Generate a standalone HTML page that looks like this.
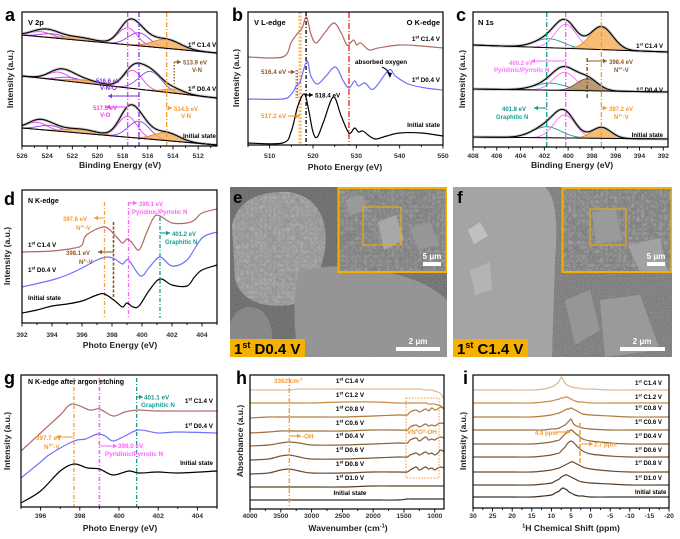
<!DOCTYPE html>
<html><head><meta charset="utf-8">
<style>
html,body{margin:0;padding:0;background:#fff;}
svg{display:block;font-family:"Liberation Sans",Arial,sans-serif;}
text{font-weight:bold;}
</style></head>
<body>
<svg id="fig" width="680" height="539" viewBox="0 0 680 539" xmlns="http://www.w3.org/2000/svg">
<defs>
<filter id="noise" x="0" y="0" width="100%" height="100%">
<feTurbulence type="fractalNoise" baseFrequency="0.9" numOctaves="2" seed="3"/>
<feColorMatrix type="saturate" values="0"/>
<feColorMatrix type="matrix" values="1.6 0 0 0 -0.3  1.6 0 0 0 -0.3  1.6 0 0 0 -0.3  0 0 0 0 1"/>
</filter>
<filter id="noise2" x="0" y="0" width="100%" height="100%">
<feTurbulence type="turbulence" baseFrequency="0.22" numOctaves="3" seed="7"/>
<feColorMatrix type="saturate" values="0"/>
<feColorMatrix type="matrix" values="1.6 0 0 0 0  1.6 0 0 0 0  1.6 0 0 0 0  0 0 0 0 1"/>
</filter>
<clipPath id="clipE"><rect x="230" y="187" width="217" height="170"/></clipPath>
<clipPath id="clipF"><rect x="453" y="187" width="219" height="170"/></clipPath>
<clipPath id="blobE"><path d="M232,225 Q240,190 290,192 Q330,200 325,250 Q315,300 290,305 Q245,310 235,280 Z"/></clipPath>
</defs>

<!-- SEM panel e -->
<g clip-path="url(#clipE)">
<rect x="230" y="187" width="217" height="170" fill="#626262"/>
<rect x="230" y="187" width="217" height="170" filter="url(#noise)" opacity="0.18"/>
<path d="M232,225 Q240,190 290,192 Q330,200 325,250 Q315,300 290,305 Q245,310 235,280 Z" fill="#999"/>
<rect x="230" y="187" width="100" height="125" filter="url(#noise2)" opacity="0.18" clip-path="url(#blobE)"/>
<path d="M298,272 Q330,262 370,270 Q420,275 447,300 L447,357 L300,357 Q290,320 298,272 Z" fill="#929292"/>
<path d="M298,272 Q330,262 370,270 Q420,275 447,300 L447,357 L300,357 Q290,320 298,272 Z" filter="url(#noise)" opacity="0.08"/>
<ellipse cx="250" cy="335" rx="22" ry="28" fill="#888"/>
<rect x="338" y="187" width="109" height="85" fill="#808080"/>
<rect x="338" y="187" width="109" height="85" filter="url(#noise2)" opacity="0.2"/>
<path d="M378,222 L396,215 L404,240 L384,250 Z" fill="#a8a8a8"/>
<path d="M345,200 L362,195 L368,210 L350,215 Z" fill="#9a9a9a"/>
<path d="M410,228 L430,222 L440,245 L418,250 Z" fill="#969696"/>
<rect x="338.5" y="188" width="108" height="84" fill="none" stroke="#f5b000" stroke-width="2"/>
<rect x="363" y="207" width="38" height="38" fill="none" stroke="#f5b000" stroke-width="1"/>
<rect x="423" y="262" width="18" height="4" fill="#fff"/>
<text x="432" y="259" font-size="8" fill="#fff" text-anchor="middle">5 μm</text>
<rect x="396" y="347" width="44" height="4" fill="#fff"/>
<text x="418" y="344" font-size="8" fill="#fff" text-anchor="middle">2 μm</text>
<rect x="230" y="339" width="75" height="18" fill="#f5b000"/>
<text x="234" y="354" font-size="15" fill="#000">1<tspan font-size="9" dy="-6">st</tspan><tspan dy="6"> D0.4 V</tspan></text>
<text x="233" y="203" font-size="17" fill="#000">e</text>
</g>

<!-- SEM panel f -->
<g clip-path="url(#clipF)">
<rect x="453" y="187" width="219" height="170" fill="#717171"/>
<rect x="453" y="187" width="219" height="170" filter="url(#noise)" opacity="0.25"/>
<path d="M453,187 L545,187 Q560,200 555,260 L552,357 L453,357 Z" fill="#a4a4a4"/>
<path d="M470,270 L490,262 L492,290 L475,295 Z" fill="#b4b4b4"/>
<path d="M468,230 L480,222 L488,236 L474,244 Z" fill="#c0c0c0"/>
<path d="M600,300 L640,295 L660,350 L605,357 Z" fill="#9a9a9a"/>
<path d="M565,300 L590,290 L600,330 L575,345 Z" fill="#969696"/>
<rect x="562" y="187" width="110" height="85" fill="#808080"/>
<rect x="562" y="187" width="110" height="85" filter="url(#noise2)" opacity="0.22"/>
<path d="M628,245 L660,238 L668,272 L640,272 Z" fill="#a2a2a2"/>
<path d="M592,212 L615,208 L622,240 L596,244 Z" fill="#9a9a9a"/>
<rect x="562.5" y="188" width="109" height="84" fill="none" stroke="#f5b000" stroke-width="2"/>
<rect x="590" y="209" width="36" height="36" fill="none" stroke="#f5b000" stroke-width="1"/>
<rect x="647" y="262" width="18" height="4" fill="#fff"/>
<text x="656" y="259" font-size="8" fill="#fff" text-anchor="middle">5 μm</text>
<rect x="620" y="347" width="45" height="4" fill="#fff"/>
<text x="642" y="344" font-size="8" fill="#fff" text-anchor="middle">2 μm</text>
<rect x="453" y="339" width="75" height="18" fill="#f5b000"/>
<text x="457" y="354" font-size="15" fill="#000">1<tspan font-size="9" dy="-6">st</tspan><tspan dy="6"> C1.4 V</tspan></text>
<text x="457" y="203" font-size="17" fill="#000">f</text>
</g>
</svg>

<script>
// ---------- DATA ----------
const aNames=['Initial state','1st D0.4 V','1st C1.4 V'];
const aBaseInit=[18,1], aBaseD04=[70,48], aBaseC14=[111,93];
const aCenInit=[517.6,516.7,514.5,524.8,523.8,521.3];
const aHtInit=[21,17,8,7,5,4];
const aSgInit=[0.75,0.85,1.0,0.8,0.9,1.2];
const aCenD04=[517.2,515.8,513.9,523.1,522.2,521.0];
const aHtD04=[18,19,4,8,4,3];
const aSgD04=[0.75,0.9,0.8,0.85,0.9,1.2];
const aCenC14=[517.6,516.7,514.5,524.5,523.6,521.5];
const aHtC14=[17,13,9,5,4,3];
const aSgC14=[0.75,0.85,1.1,0.9,0.9,1.2];
const aKinds=['VO','VNO','VN','VO','VNO','VN'];
const aTicks=[526,524,522,520,518,516,514,512];

const bXInit=[505,513,515,516.5,518,519,520,521,522.5,524.7,526.5,528.3,529.6,530.5,531.5,533,534.5,537,540,545,550];
const bYInit=[3,3,15,40,52,36,14,9,25,49,30,13,18,14,15,10,7,10,13,13,10];
const bXD04=[505,513,515,516.3,517,518.6,519.5,521,523,525.2,527,528.3,529.6,530.5,532,534,537.5,539,542,546,550];
const bYD04=[47,47,52,61,64,85,70,62,70,79,65,58,65,60,63,57,76,70,62,58,56];
const bXC14=[505,513,515,516.5,517.5,518.5,519.5,520.7,522.5,524.8,526.5,527.8,528.6,529.4,530.1,531,533,535,540,545,550];
const bYC14=[89,89,104,113,118,129,112,103,112,123,113,101,103,106,101,103,96,98,101,100,98];
const bTicks=[510,520,530,540,550];

const cBaseC14=[102,95], cCenC14=[401.6,400.2,397.2], cHtC14=[9,24,23], cSgC14=[1.2,0.9,0.95];
const cBaseD04=[58,55], cCenD04=[401.5,400.3,398.4], cHtD04=[7,18,12], cSgD04=[1.3,0.95,0.9];
const cBaseInit=[10,8], cCenInit=[401.8,400.3,397.2], cHtInit=[11,23,11], cSgInit=[1.2,0.9,0.8];
const cTicks=[408,406,404,402,400,398,396,394,392];

const dXC14=[392,394,395.5,396,396.3,397.5,398.3,398.7,399,399.3,399.8,400.3,400.8,401.2,402,403,403.5,404,405];
const dYC14=[71,72,75,78,88,96,86,80,84,81,73,90,106,107,100,100,103,110,114];
const dXD04=[392,394,395,396,397,397.7,398.2,398.7,399.1,399.9,400.5,401.2,402,403,404,405];
const dYD04=[36,43,48,55,63,66,64,59,63,47,56,66,57,63,85,91];
const dXInit=[392,393,394,395,396,397,397.5,398.2,398.7,399,399.4,399.8,400.5,401.2,402,403,403.5,404,405];
const dYInit=[10,13,17,19,22,28,29,22,16,20,16,17,33,44,38,37,46,53,58];
const dTicks=[392,394,396,398,400,402,404];

const gXC14=[395,396,397,397.6,398.5,399,399.7,400.3,401,402,405];
const gYC14=[53,71,89,100,94,95,88,92,94,93,93];
const gXD04=[395,396,396.5,397.7,398.3,398.9,399.3,399.7,400.3,401,402,403,405];
const gYD04=[26,42,50,63,65,70,68,63,68,74,71,72,71];
const gXInit=[395,396,397,397.7,398.4,399,399.7,400.5,401,402,403,405];
const gYInit=[1,13,33,40,36,35,29,33,31,32,31,33];
const gTicks=[396,398,400,402,404];

const hNames=['1st C1.4 V','1st C1.2 V','1st C0.8 V','1st C0.6 V','1st D0.4 V','1st D0.6 V','1st D0.8 V','1st D1.0 V','Initial state'];
const hX=[4000,3700,3500,3362,3200,3000,2500,2000,1600,1450,1400,1300,1250,1150,1100,1050,1000,950,900,850];
const hC14=[113,113,113,113,114,114,114,114,114,114,114,114,114,113,113,113,112,111,109,104];
const hC12=[100,100,100,100,100,100,101,101,100,100,100,100,100,100,99,99,99,98,97,94];
const hC08=[85,86,86,86,86,86,86,87,88,88,91,93,91,94,92,95,93,94,96,94];
const hC06=[70,71,72,72,72,72,72,73,73,73,76,78,76,79,77,78,77,79,80,79];
const hD04=[57,58,60,61,60,58,58,59,60,60,63,65,62,66,63,64,63,65,66,65];
const hD06=[43,44,47,48,46,44,44,45,46,46,48,50,48,51,49,50,48,50,53,51];
const hD08=[29,30,33,34,32,30,30,31,31,31,33,36,33,36,34,35,33,35,36,35];
const hD10=[16,16,16,16,16,16,16,17,17,17,17,17,17,17,17,17,17,17,17,17];
const hInit=[3,3,3,3,3,3,3,3,3,4,4,4,4,4,4,4,4,4,4,4];
const hTicks=[4000,3500,3000,2500,2000,1500,1000];

const iX=[30,20,15,12,10,9,8,7.5,7,6.5,6,5.5,5,4.5,4,3,2,0,-5,-10,-20];
const iC14=[113,113,113,114,116,118,122,126,123,120,118,117,116,116,115,115,114,114,113,113,113];
const iC12=[100,100,100,101,102,103,104,105,105,106,106,105,104,103,102,101,101,100,100,100,100];
const iC08=[86,86,86,87,88,89,90,91,92,93,94,94,95,94,93,91,89,88,87,86,86];
const iC06=[73,73,73,73,74,74,75,76,77,78,80,82,84,80,78,76,75,74,73,73,73];
const iD04=[59,59,59,60,61,62,63,65,67,69,71,72,73,72,70,67,64,62,60,59,59];
const iD06=[46,46,46,47,48,49,50,52,54,56,59,61,62,61,59,55,52,49,47,46,46];
const iD08=[31,31,31,32,33,34,35,36,37,38,39,40,41,41,40,38,36,34,32,31,31];
const iD10=[18,18,18,19,20,22,24,26,27,28,28,27,26,25,24,22,21,20,19,18,18];
const iInit=[6,6,6,7,8,10,12,14,15,14,13,11,10,9,8,7,7,6,6,6,6];
const iTicks=[30,25,20,15,10,5,0,-5,-10,-15,-20];

// ---------- HELPERS ----------
const NS="http://www.w3.org/2000/svg";
const fig=document.getElementById('fig');
function el(tag,parent){const e=document.createElementNS(NS,tag);(parent||fig).appendChild(e);return e;}
function set(e,o){for(const k in o)e.setAttribute(k,o[k]);return e;}
function group(name){const g=el('g');return g;}
function axis(f,dom,zero){
  const X=v=>f.x0+(v-dom[0])/(dom[1]-dom[0])*(f.x1-f.x0);
  const Y=v=>zero-v;
  return {X,Y,f,dom};
}
function T(g,x,y,str,size,color,anchor,name){
  const t=el('text',g);
  set(t,{x:x,y:y,'font-size':size,fill:color||'#000','text-anchor':anchor||'start'});
  
  
  const parts=str.split('^');let sup=false;
  parts.forEach((p,i)=>{
    if(p===''){sup=!sup;return;}
    const s=el('tspan',t);
    if(sup){set(s,{'font-size':size*0.65,dy:-size*0.4});}
    else if(i>0){set(s,{dy:size*0.4});}
    s.textContent=p; sup=!sup;
  });
  return t;
}
function smooth(pts){
  let d='M'+pts[0][0].toFixed(2)+','+pts[0][1].toFixed(2);
  for(let i=0;i<pts.length-1;i++){
    const p0=pts[i-1]||pts[i],p1=pts[i],p2=pts[i+1],p3=pts[i+2]||p2;
    const c1=[p1[0]+(p2[0]-p0[0])/6,p1[1]+(p2[1]-p0[1])/6];
    const c2=[p2[0]-(p3[0]-p1[0])/6,p2[1]-(p3[1]-p1[1])/6];
    d+='C'+c1[0].toFixed(2)+','+c1[1].toFixed(2)+' '+c2[0].toFixed(2)+','+c2[1].toFixed(2)+' '+p2[0].toFixed(2)+','+p2[1].toFixed(2);
  }
  return d;
}
function series(g,ax,xs,ys,color,name,w){
  const p=el('path',g);
  set(p,{d:smooth(xs.map((x,i)=>[ax.X(x),ax.Y(ys[i])])),fill:'none',stroke:color,'stroke-width':w||1.2});
  
  
  return p;
}
function poly(g,pts,attrs,name){
  const p=el('path',g);
  set(p,Object.assign({d:'M'+pts.map(q=>q[0].toFixed(2)+','+q[1].toFixed(2)).join('L')},attrs));
  
  
  return p;
}
function vline(g,x,y1,y2,color,dash,name,w){
  const l=el('line',g);
  set(l,{x1:x,x2:x,y1:y1,y2:y2,stroke:color,'stroke-width':w||1.3,'stroke-dasharray':dash});
  
  
}
function arrow(g,x1,y,x2,color,name){
  const l=el('line',g);
  set(l,{x1:x1,x2:x2,y1:y,y2:y,stroke:color,'stroke-width':1.1});
  
  
  const s=x2>x1?1:-1;
  const h=el('path',g);
  set(h,{d:`M${x2},${y}L${x2-s*4},${y-2.2}L${x2-s*4},${y+2.2}Z`,fill:color});
  
  
}
function frame(g,ax,ticks,minor,labY,title,titleX,titleY,ytitle,ytX,ytY){
  const f=ax.f;
  const r=el('rect',g);
  set(r,{x:f.x0,y:f.y0,width:f.x1-f.x0,height:f.y1-f.y0,fill:'none',stroke:'#000','stroke-width':1.2});
  
  
  const lo=Math.min(ax.dom[0],ax.dom[1]),hi=Math.max(ax.dom[0],ax.dom[1]);
  for(let v=Math.ceil(lo/minor)*minor;v<=hi+1e-9;v+=minor){
    const x=ax.X(v);const major=ticks.some(t=>Math.abs(t-v)<1e-6);
    const l=el('line',g);
    set(l,{x1:x,x2:x,y1:f.y1,y2:f.y1+(major?3.5:2),stroke:'#000','stroke-width':0.9});
    
    
  }
  ticks.forEach(t=>T(g,ax.X(t),labY,String(t),6.8,'#333','middle','x-tick-label'));
  T(g,titleX,titleY,title,8.6,'#222','middle','x-axis-title');
  const yt=T(g,ytX,ytY,ytitle,8.6,'#222','middle','y-axis-title');
  yt.setAttribute('transform',`rotate(-90 ${ytX} ${ytY})`);
}
const gauss=(x,c,h,s)=>h*Math.exp(-(x-c)*(x-c)/(2*s*s));
function fitSpectrum(g,ax,base,cen,ht,sg,colors,fills,name){
  const d0=ax.dom[0],d1=ax.dom[1],n=200;
  const xs=[];for(let i=0;i<=n;i++)xs.push(d0+(d1-d0)*i/n);
  const bl=x=>base[0]+(base[1]-base[0])*(x-d0)/(d1-d0);
  cen.forEach((c,k)=>{
    const top=xs.map(x=>[ax.X(x),ax.Y(bl(x)+gauss(x,c,ht[k],sg[k]))]);
    if(fills[k]){
      const bot=xs.slice().reverse().map(x=>[ax.X(x),ax.Y(bl(x))]);
      poly(g,top.concat(bot),{fill:fills[k],stroke:'none','fill-opacity':0.85},name+'-component-fill');
    }
    poly(g,top,{fill:'none',stroke:colors[k],'stroke-width':0.9},name+'-component');
  });
  const env=xs.map(x=>{let s=bl(x);cen.forEach((c,k)=>s+=gauss(x,c,ht[k],sg[k]));return [ax.X(x),ax.Y(s)];});
  poly(g,env,{fill:'none',stroke:'#aaa','stroke-width':3,'stroke-opacity':0.6},name+'-raw-data');
  poly(g,env,{fill:'none',stroke:'#000','stroke-width':1.1},name+'-envelope');
  poly(g,xs.map(x=>[ax.X(x),ax.Y(bl(x))]),{fill:'none',stroke:'#000','stroke-width':1},name+'-baseline');
}
function letter(x,y,s){T(fig,x,y,s,18,'#000','start','panel-letter-'+s);}

// ---------- PANEL A ----------
(function(){
  const g=group('panel-a');
  const ax=axis({x0:22,x1:217,y0:12,y1:146},[526,510.5],146);
  const kc={VO:'#f040f0',VNO:'#9040f0',VN:'#d98a30'};
  const kf={VO:null,VNO:null,VN:'#f7b25c'};
  const cols=aKinds.map(k=>kc[k]),fills=aKinds.map(k=>kf[k]);
  fitSpectrum(g,ax,aBaseInit,aCenInit,aHtInit,aSgInit,cols,fills,'initial');
  fitSpectrum(g,ax,aBaseD04,aCenD04,aHtD04,aSgD04,cols,fills,'d04');
  fitSpectrum(g,ax,aBaseC14,aCenC14,aHtC14,aSgC14,cols,fills,'c14');
  vline(g,ax.X(517.6),12,146,'#f040f0','5 2 1 2','vo-line');
  vline(g,ax.X(516.7),12,146,'#8030e0','5 2 1 2','vno-line');
  vline(g,ax.X(514.5),12,146,'#f59a30','5 2 1 2','vn-line');
  vline(g,ax.X(513.9),62,84,'#8a5a2a','1.5 1.5','vn-d04-line');
  arrow(g,ax.X(513.9),62,181,'#8a5a2a','arrow-513');
  T(g,183,64.5,'513.9 eV',6,'#8a5a2a','start','ann-513');
  T(g,192,72,'V-N',6,'#8a5a2a','start','ann-513b');
  T(g,96,83,'516.6 eV',6,'#8030e0','start','ann-516');
  T(g,100,90,'V-N-O',6,'#8030e0','start','ann-516b');
  arrow(g,ax.X(516.7),96,108,'#8030e0','arrow-516');
  T(g,93,110,'517.5 eV',6,'#f040f0','start','ann-517');
  T(g,100,117,'V-O',6,'#f040f0','start','ann-517b');
  arrow(g,ax.X(517.6),107,106,'#f040f0','arrow-517');
  arrow(g,ax.X(514.5),108,172,'#f59a30','arrow-514');
  T(g,174,111,'514.5 eV',6,'#f59a30','start','ann-514');
  T(g,181,118,'V-N',6,'#f59a30','start','ann-514b');
  T(g,28,25,'V 2p',7.5,'#000','start','panel-title');
  T(g,188,47,'1^st^ C1.4 V',6.3,'#000','start','legend-c14');
  T(g,188,91,'1^st^ D0.4 V',6.3,'#000','start','legend-d04');
  T(g,183,138,'Initial state',6.3,'#000','start','legend-initial');
  frame(g,ax,aTicks,1,158,'Binding Energy (eV)',120,168,'Intensity (a.u.)',13,79);
  letter(5,21,'a');
})();

// ---------- PANEL B ----------
(function(){
  const g=group('panel-b');
  const ax=axis({x0:248,x1:443,y0:12,y1:145},[505,550],146);
  vline(g,ax.X(528.3),12,145,'#e82020','6 2 1 2','o-edge-line');
  vline(g,ax.X(518.4),12,145,'#000','4 2 1 2','line-518');
  vline(g,ax.X(517.2),12,145,'#f59a30','2 1.5','line-517',1.2);
  vline(g,ax.X(516.8),12,145,'#f59a30','2 1.5','line-516-8',1);
  vline(g,ax.X(516.1),70,98,'#8a5a2a','1.5 1.5','line-516a',1);
  vline(g,ax.X(516.4),70,98,'#8a5a2a','1.5 1.5','line-516b',1);
  series(g,ax,bXInit,bYInit,'#000','initial-curve');
  series(g,ax,bXD04,bYD04,'#7070ff','d04-curve');
  series(g,ax,bXC14,bYC14,'#b06a66','c14-curve');
  T(g,254,25,'V L-edge',7.5,'#000','start','v-edge-title');
  T(g,440,25,'O K-edge',7.5,'#000','end','o-edge-title');
  T(g,440,41,'1^st^ C1.4 V',6.3,'#000','end','legend-c14');
  T(g,440,82,'1^st^ D0.4 V',6.3,'#000','end','legend-d04');
  T(g,440,127,'Initial state',6.3,'#000','end','legend-initial');
  T(g,355,64,'absorbed oxygen',6.3,'#000','start','ann-oxygen');
  const a=el('path',g);set(a,{d:'M382,67 Q389,70 390,76',fill:'none',stroke:'#000','stroke-width':1});
  
  const h=el('path',g);set(h,{d:'M390,78 L387,72 L392,73 Z',fill:'#000'});
  
  T(g,261,74,'516.4 eV',6.3,'#8a5a2a','start','ann-516');
  arrow(g,288,72,295,'#8a5a2a','arrow-516');
  arrow(g,ax.X(518.4),95,313,'#000','arrow-518');
  T(g,315,97.5,'518.4 eV',6.3,'#000','start','ann-518');
  T(g,261,118,'517.2 eV',6.3,'#f59a30','start','ann-517');
  arrow(g,288,116,ax.X(517.2)-1,'#f59a30','arrow-517');
  frame(g,ax,bTicks,5,158,'Photo Energy (eV)',345,170,'Intensity (a.u.)',239,78);
  letter(232,21,'b');
})();

// ---------- PANEL C ----------
(function(){
  const g=group('panel-c');
  const ax=axis({x0:473,x1:668,y0:12,y1:147},[408,391.6],147);
  const cols=['#1a9a8f','#ff70ff','#e08a20'];
  fitSpectrum(g,ax,cBaseInit,cCenInit,cHtInit,cSgInit,cols,[null,null,'#f7b25c'],'initial');
  fitSpectrum(g,ax,cBaseD04,cCenD04,cHtD04,cSgD04,['#1a9a8f','#ff70ff','#7a5230'],[null,null,'#b08a5a'],'d04');
  fitSpectrum(g,ax,cBaseC14,cCenC14,cHtC14,cSgC14,cols,[null,null,'#f7b25c'],'c14');
  vline(g,ax.X(401.8),12,147,'#1a9a8f','5 2 1 2','graphitic-line');
  vline(g,ax.X(400.2),12,147,'#ff50ff','5 2 1 2','pyridinic-line');
  vline(g,ax.X(397.2),12,147,'#f59a30','5 2 1 2','n3-line');
  vline(g,ax.X(398.4),58,98,'#7a3a10','4 2 1 2','n2-line');
  T(g,478,25,'N 1s',7.5,'#000','start','panel-title');
  arrow(g,ax.X(400.2),61,531,'#ff70ff','arrow-400');
  T(g,509,65,'400.2 eV',6,'#ff70ff','start','ann-400');
  T(g,494,72,'Pyridinic/Pyrrolic N',6,'#ff70ff','start','ann-400b');
  arrow(g,ax.X(398.4),61,607,'#8a5a2a','arrow-398');
  T(g,609,64,'398.4 eV',6,'#8a5a2a','start','ann-398');
  T(g,614,72,'N^3+^-V',6,'#8a5a2a','start','ann-398b');
  arrow(g,ax.X(401.8),108,534,'#1a9a8f','arrow-401');
  T(g,502,111,'401.8 eV',6,'#1a9a8f','start','ann-401');
  T(g,496,119,'Graphitic N',6,'#1a9a8f','start','ann-401b');
  arrow(g,ax.X(397.2),108,607,'#f59a30','arrow-397');
  T(g,609,111,'397.2 eV',6,'#f59a30','start','ann-397');
  T(g,614,119,'N^3+^-V',6,'#f59a30','start','ann-397b');
  T(g,663,48,'1^st^ C1.4 V',6,'#000','end','legend-c14');
  T(g,663,92,'1^st^ D0.4 V',6,'#000','end','legend-d04');
  T(g,663,137,'Initial state',6,'#000','end','legend-initial');
  frame(g,ax,cTicks,1,158,'Binding Energy (eV)',572,168,'Intensity (a.u.)',465,79);
  letter(456,21,'c');
})();

// ---------- PANEL D ----------
(function(){
  const g=group('panel-d');
  const ax=axis({x0:22,x1:217,y0:190,y1:323},[392,405],323);
  vline(g,ax.X(397.5),202,318,'#f5a040','4 2 1 2','n3-line',1.3);
  vline(g,ax.X(398.1),222,298,'#8a5a2a','3 1.5','n2-line',1.6);
  vline(g,ax.X(399.1),202,318,'#ff60ff','4 2 1 2','pyridinic-line');
  vline(g,ax.X(401.2),217,318,'#1a9a8f','4 2 1 2','graphitic-line');
  series(g,ax,dXInit,dYInit,'#000','initial-curve');
  series(g,ax,dXD04,dYD04,'#7070ff','d04-curve');
  series(g,ax,dXC14,dYC14,'#b06a66','c14-curve');
  T(g,28,203,'N K-edge',7,'#000','start','panel-title');
  arrow(g,ax.X(397.5)-1,218,94,'#f59a30','arrow-397');
  T(g,63,221,'397.6 eV',6,'#f59a30','start','ann-397');
  T(g,76,230,'N^3+^-V',6,'#f59a30','start','ann-397b');
  arrow(g,ax.X(399.1),203,137,'#ff60ff','arrow-399');
  T(g,139,206,'399.1 eV',6,'#ff60ff','start','ann-399');
  T(g,132,214,'Pyridinic/Pyrrolic N',6,'#ff60ff','start','ann-399b');
  arrow(g,ax.X(401.2),233,170,'#1a9a8f','arrow-401');
  T(g,172,236,'401.2 eV',6,'#1a9a8f','start','ann-401');
  T(g,165,244,'Graphitic N',6,'#1a9a8f','start','ann-401b');
  arrow(g,ax.X(398.1),252,98,'#8a5a2a','arrow-398');
  T(g,66,255,'398.1 eV',6,'#8a5a2a','start','ann-398');
  T(g,79,264,'N^2-^-V',6,'#8a5a2a','start','ann-398b');
  T(g,28,247,'1^st^ C1.4 V',6.3,'#000','start','legend-c14');
  T(g,28,272,'1^st^ D0.4 V',6.3,'#000','start','legend-d04');
  T(g,28,300,'Initial state',6.3,'#000','start','legend-initial');
  frame(g,ax,dTicks,1,337,'Photo Energy (eV)',120,348,'Intensity (a.u.)',10,256);
  letter(4,205,'d');
})();

// ---------- PANEL G ----------
(function(){
  const g=group('panel-g');
  const ax=axis({x0:21,x1:217,y0:375,y1:507},[395,405],504);
  vline(g,ax.X(397.7),378,507,'#f59a30','4 2 1 2','n3-line');
  vline(g,ax.X(399),378,507,'#ff60ff','4 2 1 2','pyridinic-line',1.6);
  vline(g,ax.X(400.9),378,507,'#1a9a8f','4 2 1 2','graphitic-line');
  series(g,ax,gXInit,gYInit,'#000','initial-curve');
  series(g,ax,gXD04,gYD04,'#7070ff','d04-curve');
  series(g,ax,gXC14,gYC14,'#b06a66','c14-curve');
  T(g,28,384,'N K-edge after argon etching',7,'#000','start','panel-title');
  arrow(g,ax.X(400.9),397,143,'#1a9a8f','arrow-401');
  T(g,144,399.5,'401.1 eV',6.3,'#1a9a8f','start','ann-401');
  T(g,141,407,'Graphitic N',6.3,'#1a9a8f','start','ann-401b');
  arrow(g,ax.X(397.7),437,56,'#f59a30','arrow-397');
  T(g,36,440,'397.7 eV',6.3,'#f59a30','start','ann-397');
  T(g,44,449,'N^3+^-V',6.3,'#f59a30','start','ann-397b');
  arrow(g,ax.X(399),446,117,'#ff60ff','arrow-399');
  T(g,118,448,'399.0 eV',6.3,'#ff60ff','start','ann-399');
  T(g,105,456,'Pyridinic/Pyrrolic N',6.3,'#ff60ff','start','ann-399b');
  T(g,213,403,'1^st^ C1.4 V',6.3,'#000','end','legend-c14');
  T(g,213,428,'1^st^ D0.4 V',6.3,'#000','end','legend-d04');
  T(g,213,465,'Initial state',6.3,'#000','end','legend-initial');
  frame(g,ax,gTicks,1,518,'Photo Energy (eV)',120,531,'Intensity (a.u.)',10,441);
  letter(4,384,'g');
})();

// ---------- PANEL H ----------
(function(){
  const g=group('panel-h');
  const ax=axis({x0:250,x1:444,y0:375,y1:509},[4000,850],503);
  const cols=['#d9b99b','#c98b45','#b37a38','#9c6e3a','#8b6238','#7b5634','#6b4a2e','#5b4028','#3f3020'];
  const data=[hC14,hC12,hC08,hC06,hD04,hD06,hD08,hD10,hInit];
  const ly=[383,397,411,425,438,452,466,480,495];
  data.forEach((ys,k)=>{series(g,ax,hX,ys,cols[k],'ftir-'+hNames[k].replace(/\s+/g,'-'),1.2);
    T(g,350,ly[k],hNames[k].replace('1st','1^st^'),6.3,'#000','middle','legend-'+k);});
  vline(g,ax.X(3362),378,508,'#f59a30','5 2 1 2','oh-line');
  T(g,274,383,'3362 cm^-1',6.3,'#f59a30','start','ann-3362');
  arrow(g,ax.X(3362),436,301,'#f59a30','arrow-oh');
  T(g,302,438.5,'-OH',6.3,'#f59a30','start','ann-oh');
  const r=el('rect',g);set(r,{x:406,y:398,width:33,height:80,fill:'none',stroke:'#f59a30','stroke-width':1,'stroke-dasharray':'1.5 1.5'});
  
  T(g,407,434,'VN^x^O^y^-OH',6.3,'#f59a30','start','ann-vnxoy');
  frame(g,ax,hTicks,250,518,'Wavenumber (cm^-1^)',348,531,'Absorbance (a.u.)',243,441);
  letter(236,384,'h');
})();

// ---------- PANEL I ----------
(function(){
  const g=group('panel-i');
  const ax=axis({x0:473,x1:669,y0:375,y1:508},[30,-20],503);
  const cols=['#d9b99b','#c98b45','#b37a38','#9c6e3a','#8b6238','#7b5634','#6b4a2e','#5b4028','#3f3020'];
  const data=[iC14,iC12,iC08,iC06,iD04,iD06,iD08,iD10,iInit];
  const ly=[385,399,410,424,438,452,465,480,494];
  data.forEach((ys,k)=>{series(g,ax,iX,ys,cols[k],'nmr-'+hNames[k].replace(/\s+/g,'-'),1.2);
    T(g,635,ly[k],hNames[k].replace('1st','1^st^'),6,'#000','start','legend-'+k);});
  vline(g,ax.X(2.7),423,465,'#f59a30','5 2','shift-line',1.5);
  T(g,535,435,'4.9 ppm',6,'#f59a30','start','ann-4-9');
  arrow(g,556,432,ax.X(4.9)-1,'#f59a30','arrow-4-9');
  arrow(g,ax.X(2.7)+1,444,593,'#f59a30','arrow-2-7');
  T(g,594,446.5,'2.7 ppm',6,'#f59a30','start','ann-2-7');
  frame(g,ax,iTicks,2.5,518,'^1^H Chemical Shift (ppm)',571,531,'Intensity (a.u.)',466,441);
  letter(463,384,'i');
})();
</script>
</body></html>
